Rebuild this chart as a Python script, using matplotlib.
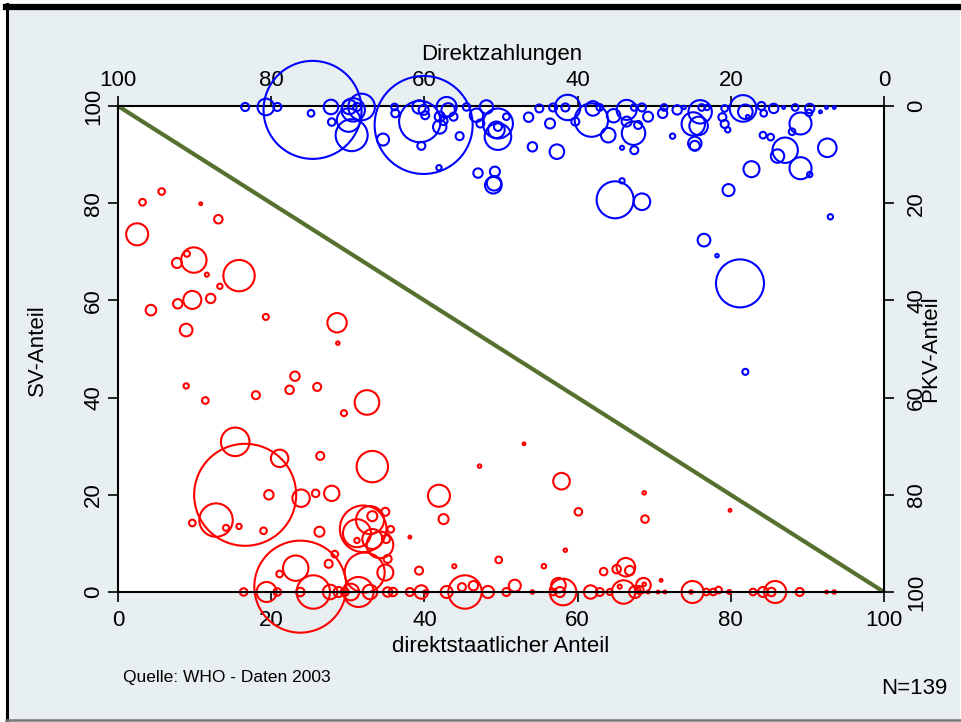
import numpy as np
import matplotlib
matplotlib.use('Agg')
import matplotlib.pyplot as plt
from matplotlib.lines import Line2D
from matplotlib.patches import Rectangle

plt.rcParams['font.family'] = ['Liberation Sans', 'DejaVu Sans']

# rot: direktstaatlicher Anteil (x) gegen SV-Anteil (y), Gewicht ~ Bevoelkerung
rot_staat = [3.2, 5.7, 10.8, 13.1, 2.5, 7.7, 9.0, 9.9, 11.6, 13.3, 15.8, 4.3, 7.8, 9.7, 12.1,
             8.9, 19.3, 28.6, 28.7, 8.9, 11.4, 18.0, 22.4, 23.1, 26.0, 29.5, 32.5,
             15.3, 16.6, 21.1, 26.4, 33.2, 12.8, 9.7, 14.1, 15.8, 19.0, 19.7, 23.9, 25.8, 27.9,
             26.3, 32.0, 33.2, 32.9, 31.2, 31.2, 33.2, 34.2, 34.9, 35.6, 35.0, 35.2, 34.9, 38.1,
             41.9, 42.5, 47.2, 43.9, 39.3, 28.3, 27.5, 21.1, 23.2, 23.8, 32.2,
             16.4, 19.4, 20.8, 23.8, 25.5, 27.7, 28.8, 29.6, 30.4, 31.4, 32.9, 35.2, 35.9, 38.1,
             39.6, 40.1, 42.9, 45.3, 44.9, 46.4, 48.3, 49.7,
             53.0, 57.9, 60.1, 68.7, 68.8, 79.9, 58.4, 55.6, 63.4, 65.1, 66.3, 66.8, 70.9,
             51.8, 50.7, 54.1, 56.8, 57.5, 58.1, 57.7, 61.7, 62.9, 64.2, 66.0, 65.5, 67.5, 68.1,
             68.6, 68.7, 69.2, 70.5, 71.4, 75.0, 74.8, 76.8, 77.7, 78.4, 79.8, 82.9, 84.2, 85.3,
             85.8, 89.0, 92.5, 93.5]
rot_sv = [80.2, 82.4, 79.9, 76.7, 73.6, 67.7, 69.6, 68.3, 65.3, 62.9, 65.1, 58.0, 59.3, 60.1, 60.4,
          53.9, 56.6, 55.4, 51.2, 42.4, 39.4, 40.5, 41.6, 44.4, 42.2, 36.8, 39.0,
          30.9, 20.0, 27.5, 28.0, 25.8, 14.8, 14.2, 13.2, 13.5, 12.6, 20.0, 19.3, 20.3, 20.3,
          12.4, 13.0, 15.6, 14.8, 12.1, 10.6, 10.9, 9.7, 16.5, 12.9, 10.9, 6.8, 4.0, 11.3,
          19.8, 15.0, 25.9, 5.3, 4.4, 7.8, 5.8, 3.7, 4.9, 1.1, 4.0,
          0, 0, 0, 0, 0, 0, 0, 0, 0, 0, 0, 0, 0, 0,
          0, 0, 0, 0, 1.0, 1.3, 0, 6.6,
          30.5, 22.8, 16.5, 20.4, 15.0, 16.8, 8.6, 5.3, 4.2, 4.7, 5.1, 4.4, 2.4,
          1.3, 0, 0, 0, 1.4, 0, 0, 0, 0, 0, 0, 1.1, 0, 0.4,
          1.4, 1.6, 0, 0, 0, 0, 0, 0, 0, 0.4, 0, 0, 0, 0,
          0, 0, 0, 0]
rot_gewicht = [11, 11, 2, 18, 121, 25, 9, 161, 4, 7, 246, 28, 22, 81, 22,
               40, 9, 94, 3, 7, 11, 16, 18, 22, 16, 9, 151,
               204, 2601, 76, 16, 246, 279, 11, 9, 7, 11, 22, 76, 14, 59,
               25, 543, 25, 196, 196, 7, 100, 177, 16, 11, 16, 16, 64, 2,
               121, 25, 3, 4, 16, 11, 16, 11, 161, 2116, 400,
               14, 100, 14, 18, 279, 53, 25, 16, 69, 225, 53, 22, 18, 16,
               45, 3, 36, 279, 16, 22, 36, 11,
               2, 69, 14, 3, 14, 2, 3, 5, 14, 18, 86, 22, 2,
               36, 16, 3, 11, 53, 177, 25, 45, 16, 9, 137, 4, 36, 16,
               53, 3, 2, 2, 2, 121, 3, 11, 11, 11, 4, 11, 25, 18,
               121, 16, 2, 3]

# blau: Direktzahlungen (obere Achse) gegen PKV-Anteil (rechte Achse)
blau_direkt = [83.4, 80.7, 79.2, 74.8, 74.6, 72.2, 72.1, 69.8, 69.3, 68.2, 69.9, 69.5, 68.8, 65.4,
               63.9, 63.8, 60.1, 60.6, 60.4, 60.7, 60.1, 59.9, 58.1, 57.1, 56.9, 58.0, 58.0, 57.5,
               56.2, 55.4, 54.5, 53.2, 51.9, 52.7, 53.0, 51.0, 50.6,
               50.4, 50.4, 50.4, 49.3, 50.8, 50.9, 46.4, 45.0, 45.9, 43.6, 42.7, 43.2, 41.6, 41.3,
               40.3, 38.2, 38.0, 37.1, 36.0, 35.3, 34.2, 33.6, 33.6, 32.7, 32.6, 32.1, 32.6, 31.6,
               30.8, 28.9, 28.7, 27.6, 27.0, 26.1, 24.9, 24.2, 24.0, 24.7, 24.7, 23.8, 23.1, 20.8,
               21.1, 20.8, 20.4, 18.4, 18.1, 17.8, 16.0, 15.7, 14.4, 13.1, 11.6, 9.7, 9.8, 8.3,
               7.5, 6.5, 10.9, 12.0, 15.8, 14.8, 12.9, 13.9, 7.4, 10.9, 9.7, 17.3, 20.3,
               35.1, 31.6, 34.2, 7.0, 23.5, 21.8, 18.8, 18.1]
blau_pkv = [0.2, 0.2, 0.2, 1.5, 0.8, 0.2, 3.3, 0.2, 0.8, 0.2, 2.9, 6.0, 0.2, 6.9,
            0.2, 1.5, 3.9, 3.2, 8.2, 0.2, 0.8, 1.9, 12.7, 0.2, 0.8, 2.2, 4.3, 3.1,
            2.2, 6.2, 0.2, 1.9, 0.2, 3.6, 13.8, 16.3, 4.9,
            3.6, 6.3, 4.3, 2.2, 13.5, 15.9, 2.3, 0.5, 8.4, 3.6, 9.4, 0.3, 0.3, 0.3,
            3.2, 2.9, 0.5, 0.3, 6.0, 2.0, 8.6, 0.8, 3.2, 5.6, 9.1, 3.9, 0.3, 0.3,
            2.2, 1.5, 0.3, 6.2, 0.8, 0.3, 3.7, 4.1, 1.2, 7.7, 8.2, 0.3, 0.3, 0.5,
            2.3, 3.7, 4.9, 0.5, 1.2, 2.2, 0.0, 1.5, 0.5, 0.3, 0.3, 0.5, 1.4, 1.2,
            0.3, 0.3, 3.6, 5.3, 6.0, 6.4, 9.1, 10.3, 8.6, 12.8, 14.1, 13.0, 17.3,
            19.3, 19.7, 15.4, 22.8, 27.6, 30.8, 36.5, 54.7]
blau_gewicht = [16, 69, 16, 11, 2401, 53, 14, 53, 137, 177, 137, 256, 16, 36,
                11, 16, 2401, 428, 16, 45, 25, 16, 7, 100, 45, 25, 45, 16,
                16, 16, 14, 45, 45, 16, 22, 69, 69,
                225, 177, 16, 11, 25, 53, 22, 16, 22, 25, 53, 16, 16, 161,
                16, 279, 53, 11, 53, 45, 4, 100, 25, 137, 16, 16, 11, 16,
                25, 22, 11, 7, 22, 3, 137, 86, 137, 45, 25, 11, 7, 11,
                16, 16, 7, 177, 53, 3, 16, 11, 22, 2, 11, 22, 11, 2,
                2, 2, 121, 11, 11, 11, 161, 45, 86, 121, 7, 64, 36,
                342, 69, 7, 7, 40, 3, 576, 9]

ticks = [0, 20, 40, 60, 80, 100]
bg = '#e8eff1'
W, H = 962, 722

fig = plt.figure(figsize=(W / 100, H / 100), dpi=100, facecolor='white')

# Rahmen
fig.add_artist(Rectangle((6 / W, 1 - 720 / H), 954 / W, 716 / H, transform=fig.transFigure,
                         facecolor=bg, edgecolor='none', zorder=-10))
fig.add_artist(Line2D([6 / W, 962 / W], [1 - 7 / H, 1 - 7 / H], color='black', lw=4.5,
                      transform=fig.transFigure))
fig.add_artist(Line2D([7.5 / W, 7.5 / W], [1 - 4 / H, 1 - 720 / H], color='black', lw=2.2,
                      transform=fig.transFigure))
fig.add_artist(Line2D([6 / W, 962 / W], [1 - 719.5 / H, 1 - 719.5 / H], color='#777777', lw=1.8,
                      transform=fig.transFigure))

pos = [118 / W, 1 - 592 / H, 766 / W, 486 / H]
ax = fig.add_axes(pos)
ax.set_facecolor('white')
ax.set_xlim(0, 100)
ax.set_ylim(0, 100)

fs = 16
k = (2 * 0.72) ** 2

ax.plot([0, 100], [100, 0], color='#56702f', lw=3, zorder=1.5)
ax.scatter(rot_staat, rot_sv, s=np.array(rot_gewicht) * k, facecolors='none',
           edgecolors='#ff0000', linewidths=1.5, clip_on=False, zorder=2)

ax.set_xticks(ticks)
ax.set_yticks(ticks)
ax.tick_params(direction='out', length=7, width=1.2, labelsize=fs, colors='black')
ax.tick_params(axis='x', pad=6)
ax.tick_params(axis='y', labelrotation=90, pad=3)
for lbl in ax.get_yticklabels():
    lbl.set_va('center')
for sp in ax.spines.values():
    sp.set_color('black')
    sp.set_linewidth(1.5)

ax2 = fig.add_axes(pos)
ax2.patch.set_visible(False)
ax2.set_xlim(100, 0)
ax2.set_ylim(100, 0)
ax2.scatter(blau_direkt, blau_pkv, s=np.array(blau_gewicht) * k, facecolors='none',
            edgecolors='#0000ff', linewidths=1.5, clip_on=False, zorder=2)
for sp in ax2.spines.values():
    sp.set_visible(False)
ax2.xaxis.tick_top()
ax2.yaxis.tick_right()
ax2.set_xticks(ticks)
ax2.set_yticks(ticks)
ax2.tick_params(direction='out', length=7, width=1.2, labelsize=fs, colors='black')
ax2.tick_params(axis='x', pad=4)
ax2.tick_params(axis='y', labelrotation=90, pad=9)
for lbl in ax2.get_yticklabels():
    lbl.set_va('center')

# Beschriftungen
fig.text(502 / W, 1 - 60 / H, 'Direktzahlungen', ha='center', va='baseline', fontsize=fs)
fig.text(501 / W, 1 - 652 / H, 'direktstaatlicher Anteil', ha='center', va='baseline', fontsize=fs)
fig.text(37 / W, 1 - 350 / H, 'SV-Anteil', ha='center', va='center', rotation=90, fontsize=fs)
fig.text(931 / W, 1 - 349 / H, 'PKV-Anteil', ha='center', va='center', rotation=90, fontsize=fs)
fig.text(123 / W, 1 - 682 / H, 'Quelle: WHO - Daten 2003', ha='left', va='baseline', fontsize=12.5)
fig.text(947 / W, 1 - 694 / H, 'N=139', ha='right', va='baseline', fontsize=16)

fig.savefig('out.png', dpi=100, facecolor=fig.get_facecolor())
